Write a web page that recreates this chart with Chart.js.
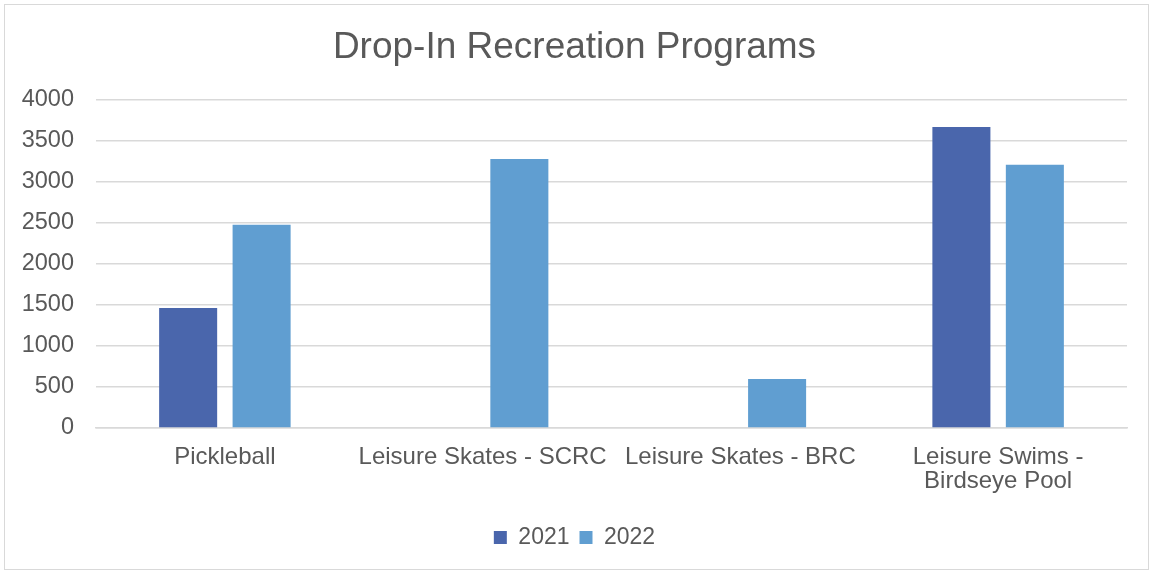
<!DOCTYPE html>
<html>
<head>
<meta charset="utf-8">
<script src="https://cdn.jsdelivr.net/npm/chart.js@4"></script>
<style>
  body { margin: 0; background: #fff; }
  #box { position: absolute; left: 4px; top: 4px; width: 1145px; height: 566px; border: 1px solid #d9d9d9; box-sizing: border-box; }
  canvas { position: absolute; left: 0; top: 0; }
</style>
</head>
<body>
<div id="box"><canvas id="chart" width="1143" height="564"></canvas></div>
<script>
// chart data
const categories = ["Pickleball", "Leisure Skates - SCRC", "Leisure Skates - BRC", ["Leisure Swims -", "Birdseye Pool"]];
const values2021 = [1460, 0, 0, 3665];
const values2022 = [2475, 3275, 595, 3205];
const yTicks = [0, 500, 1000, 1500, 2000, 2500, 3000, 3500, 4000];

const textColor = "#595959";
const gridColor = "#d9d9d9";
const fontName = "'Liberation Sans', Arial, sans-serif";

let ctx = document.getElementById("chart").getContext("2d");
window.myChart = new Chart(ctx, {
    type: "bar",
    data: {
        labels: categories,
        datasets: [
            { label: "2021", data: values2021, backgroundColor: "#4a66ac" },
            { label: "2022", data: values2022, backgroundColor: "#609ed1" }
        ]
    },
    options: {
        responsive: false,
        animation: false,
        categoryPercentage: 0.57,
        barPercentage: 0.79,
        layout: { padding: { left: 17, right: 21, top: 0, bottom: 10 } },
        plugins: {
            title: {
                display: true,
                text: "Drop-In Recreation Programs",
                color: textColor,
                font: { family: fontName, size: 37, weight: "normal" },
                padding: { top: 21, bottom: 29 }
            },
            legend: {
                position: "bottom",
                labels: {
                    color: textColor,
                    font: { family: fontName, size: 23 },
                    boxWidth: 13,
                    boxHeight: 13,
                    padding: 10
                }
            },
            tooltip: { enabled: false }
        },
        scales: {
            x: {
                grid: { display: false, drawTicks: false },
                border: { color: gridColor, width: 1.5 },
                ticks: {
                    color: textColor,
                    font: { family: fontName, size: 24, lineHeight: 1.0 },
                    maxRotation: 0,
                    autoSkip: false,
                    padding: 17
                },
                afterFit: axis => { axis.height = 88; }
            },
            y: {
                min: 0,
                max: 4000,
                afterBuildTicks: axis => { axis.ticks = yTicks.map(v => ({ value: v })); },
                grid: { color: gridColor, lineWidth: 1.5, drawTicks: false },
                border: { display: false },
                ticks: {
                    color: textColor,
                    font: { family: fontName, size: 23.5 },
                    padding: 22,
                    callback: v => String(v)
                },
                afterFit: axis => { axis.width = 74; }
            }
        }
    }
});
</script>
</body>
</html>
